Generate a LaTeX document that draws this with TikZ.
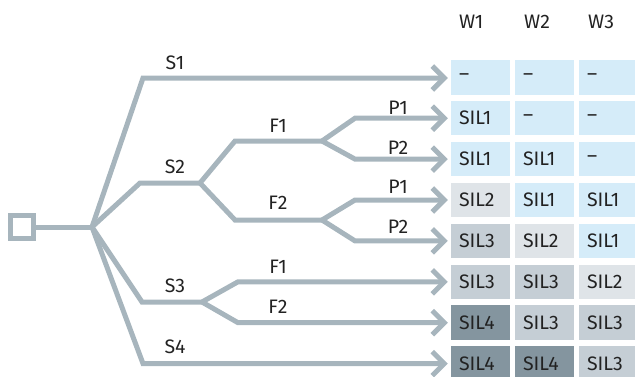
\documentclass[tikz,border=0pt]{standalone}
\usepackage{fontspec}
\setmainfont{Fira Sans}
\usetikzlibrary{arrows.meta}
\definecolor{branchgrey}{HTML}{A7B5BD}
\definecolor{silblue}{HTML}{D5ECF9}
\definecolor{sillight}{HTML}{DFE4E8}
\definecolor{silmid}{HTML}{C5CED5}
\definecolor{sildark}{HTML}{84959F}
\definecolor{textgrey}{HTML}{222222}
\tikzset{
  branch/.style={draw=branchgrey, line width=5pt},
  arrowline/.style={branch, -{Straight Barb[length=12pt 0, width=24pt 0]}, shorten >=3pt},
  lbl/.style={font=\fontsize{19.5}{22}\selectfont, text=textgrey, inner sep=0},
  cell/.style={lbl, rectangle, inner xsep=8pt, inner ysep=0, text width=43pt,
    minimum height=34.5pt, align=left}
}

\begin{document}
\begin{tikzpicture}[x=1pt, y=-1pt]
\useasboundingbox (0,0) rectangle (635,376);
% column heads
\foreach \w/\x in {1/459, 2/524, 3/588} {
  \node[lbl, anchor=west] (w\w) at (\x,22) {W\w};
};
% result cells
\foreach \r/\a/\ca/\b/\cb/\c/\cc in {1/–/silblue/–/silblue/–/silblue,
  2/SIL1/silblue/–/silblue/–/silblue, 3/SIL1/silblue/SIL1/silblue/–/silblue,
  4/SIL2/sillight/SIL1/silblue/SIL1/silblue, 5/SIL3/silmid/SIL2/sillight/SIL1/silblue,
  6/SIL3/silmid/SIL3/silmid/SIL2/sillight, 7/SIL4/sildark/SIL3/silmid/SIL3/silmid,
  8/SIL4/sildark/SIL4/sildark/SIL3/silmid} {
  \node[cell, fill=\ca] (c\r-1) at (480.5,{77.3+40.9*(\r-1)}) {\a};
  \node[cell, fill=\cb] (c\r-2) at (544.5,{77.3+40.9*(\r-1)}) {\b};
  \node[cell, fill=\cc] (c\r-3) at (608.5,{77.3+40.9*(\r-1)}) {\c};
};
% tree
\node[draw=branchgrey, line width=5pt, minimum size=23pt, inner sep=0] (start) at (22,227) {};
\coordinate (root) at (92,227);
\coordinate (s1) at (143,78);
\coordinate (s2a) at (140,183);
\coordinate (s2b) at (200,183);
\coordinate (f1a) at (235,141);
\coordinate (f1b) at (322,141);
\coordinate (f2a) at (235,220);
\coordinate (f2b) at (322,220);
\coordinate (p11) at (355,118.2);
\coordinate (p12) at (355,159.1);
\coordinate (p21) at (355,200);
\coordinate (p22) at (355,240.9);
\coordinate (s3a) at (142,302);
\coordinate (s3b) at (202,302);
\coordinate (g1) at (238,281.8);
\coordinate (g2) at (238,322.7);
\coordinate (s4) at (143,363.6);
\draw[branch] (start) -- (root);
\draw[arrowline] (root) -- (s1) -- (s1 -| c1-1.west);
\draw[branch] (root) -- (s2a) -- (s2b);
\draw[branch] (s2b) -- (f1a) -- (f1b);
\draw[branch] (s2b) -- (f2a) -- (f2b);
\draw[arrowline] (f1b) -- (p11) -- (c2-1.west);
\draw[arrowline] (f1b) -- (p12) -- (c3-1.west);
\draw[arrowline] (f2b) -- (p21) -- (c4-1.west);
\draw[arrowline] (f2b) -- (p22) -- (c5-1.west);
\draw[branch] (root) -- (s3a) -- (s3b);
\draw[arrowline] (s3b) -- (g1) -- (c6-1.west);
\draw[arrowline] (s3b) -- (g2) -- (c7-1.west);
\draw[arrowline] (root) -- (s4) -- (c8-1.west);
% branch labels
\node[lbl] (ls1) at (175,63) {S1};
\node[lbl] (ls2) at (175,167) {S2};
\node[lbl] (ls3) at (175,286) {S3};
\node[lbl] (ls4) at (175,347) {S4};
\node[lbl] (lf11) at (278,126) {F1};
\node[lbl] (lf12) at (278,203) {F2};
\node[lbl] (lf21) at (278,267) {F1};
\node[lbl] (lf22) at (278,307) {F2};
\node[lbl] (lp11) at (398,108) {P1};
\node[lbl] (lp12) at (398,148) {P2};
\node[lbl] (lp21) at (398,187) {P1};
\node[lbl] (lp22) at (398,227) {P2};
\end{tikzpicture}
\end{document}
